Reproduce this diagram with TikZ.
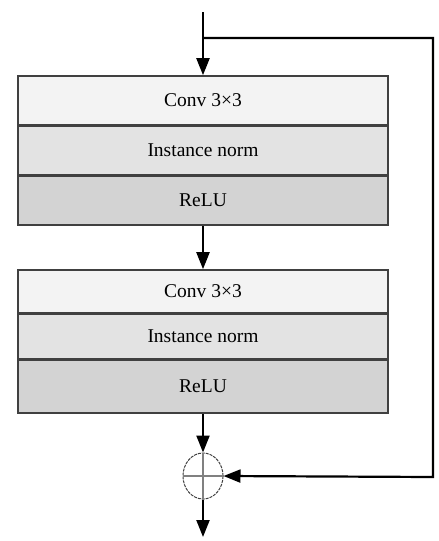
\documentclass[tikz,border=0pt]{standalone}
\usepackage{fontspec}
\setmainfont{Liberation Serif}
\usetikzlibrary{positioning,arrows.meta,shapes.geometric}
\definecolor{rowa}{HTML}{F3F3F3}
\definecolor{rowb}{HTML}{E3E3E3}
\definecolor{rowc}{HTML}{D3D3D3}
\definecolor{edge}{HTML}{404040}
\tikzset{layer/.style={draw=edge,line width=1.6pt,fill=#1,minimum width=370pt,inner sep=0pt,
		font=\fontsize{19.5}{22}\selectfont},layer/.default=rowa}
\tikzset{flow/.style={line width=2.2pt,-{Triangle[length=17pt,width=13pt]}}}

\begin{document}
\begin{tikzpicture}[x=1pt,y=-1pt]
	\useasboundingbox (0,0) rectangle (439,541);

	% Erster Block
	\node[layer=rowa,minimum height=49pt] (conv1) at (203,100.5) {Conv 3×3};
	\node[layer=rowb,minimum height=48pt,below=0pt of conv1] (norm1) {Instance norm};
	\node[layer=rowc,minimum height=49pt,below=0pt of norm1] (relu1) {ReLU};

	% Zweiter Block
	\node[layer=rowa,minimum height=43pt] (conv2) at (203,291.5) {Conv 3×3};
	\node[layer=rowb,minimum height=44pt,below=0pt of conv2] (norm2) {Instance norm};
	\node[layer=rowc,minimum height=53pt,below=0pt of norm2] (relu2) {ReLU};

	% Summe
	\node[ellipse,draw=edge,dashed,dash pattern=on 3pt off 1pt,line width=1pt,minimum width=40pt,minimum height=46pt,inner sep=0pt] (sum) at (203,476) {};
	\draw[gray,line width=1.2pt] (sum.north) -- (sum.south) (sum.west) -- (sum.east);

	\coordinate (in) at (203,12);
	\coordinate (split) at (203,38);
	\coordinate (corner1) at (433,38);
	\coordinate (corner2) at (433,477);
	\coordinate (out) at (203,537);

	\draw[flow] (in) -- (conv1.north);
	\draw[flow] (relu1.south) -- (conv2.north);
	\draw[flow] (relu2.south) -- (sum.north);
	\draw[flow] (sum.south) -- (out);
	\draw[flow] (split) -- (corner1) -- (corner2) -- (sum.east);

\end{tikzpicture}
\end{document}
